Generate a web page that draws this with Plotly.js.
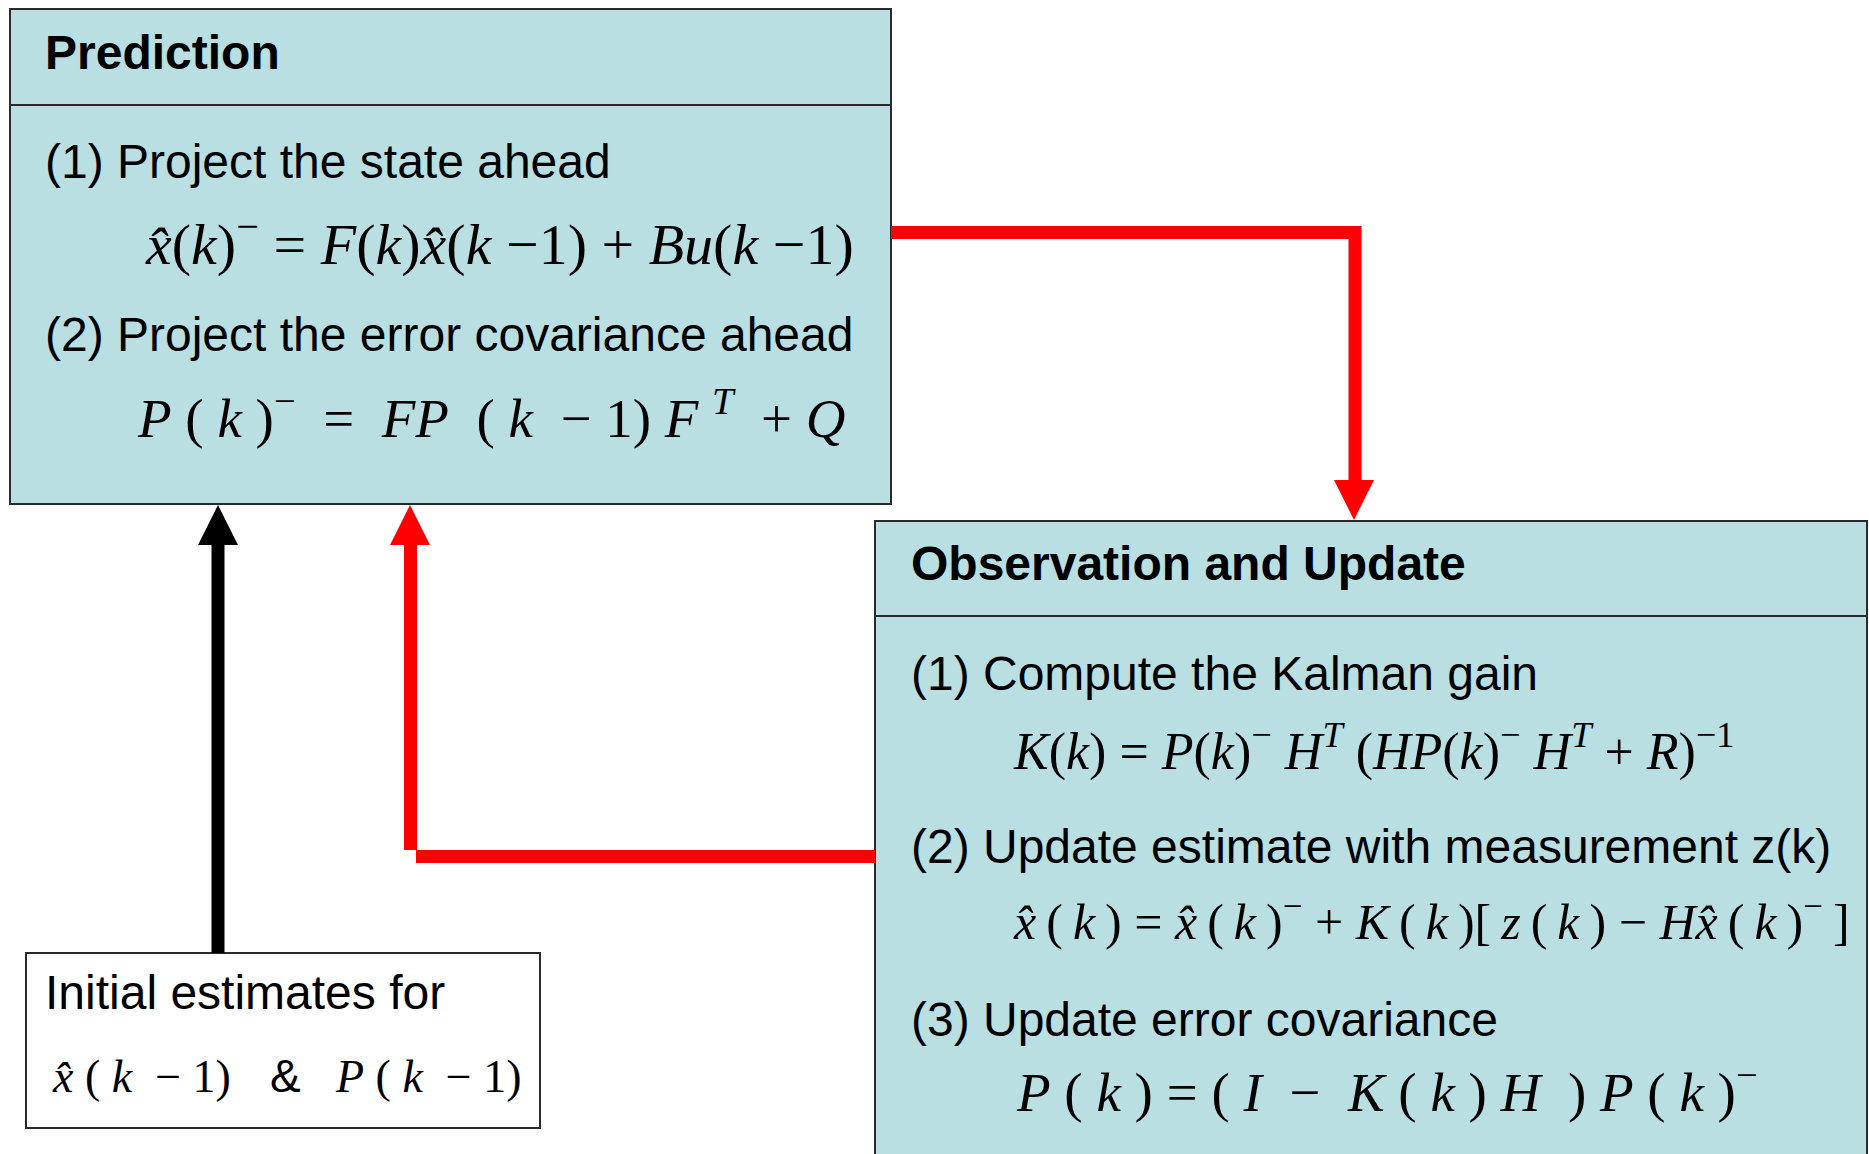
<!DOCTYPE html>
<html>
<head>
<meta charset="utf-8">
<script src="https://cdn.plot.ly/plotly-3.0.1.min.js"></script>
<style>html,body{margin:0;padding:0;background:#fff;}#chart{width:1869px;height:1154px;}</style>
</head>
<body>
<div id="chart"></div>
<script>
// ---- diagram content ----
const boxTitles = ['Prediction', 'Observation and Update'];
const predSteps = ['(1) Project the state ahead', '(2) Project the error covariance ahead'];
const predEquations = [
  '<i>x\u0302</i>(<i>k</i>)<sup>\u2212</sup> = <i>F</i>(<i>k</i>)<i>x\u0302</i>(<i>k</i> \u22121) + <i>Bu</i>(<i>k</i> \u22121)',
  '<i>P</i>\u00a0(\u00a0<i>k</i>\u00a0)<sup>\u2212</sup>\u00a0\u00a0=\u00a0\u00a0<i>FP</i>\u00a0\u00a0(\u00a0<i>k</i>\u00a0\u00a0\u2212\u00a01)\u00a0<i>F</i>\u00a0<sup><i>T</i></sup>\u00a0\u00a0+\u00a0<i>Q</i>'
];
const updSteps = ['(1) Compute the Kalman gain', '(2) Update estimate with measurement z(k)', '(3) Update error covariance'];
const updEquations = [
  '<i>K</i>(<i>k</i>) = <i>P</i>(<i>k</i>)<sup>\u2212</sup> <i>H</i><sup><i>T</i></sup> (<i>HP</i>(<i>k</i>)<sup>\u2212</sup> <i>H</i><sup><i>T</i></sup> + <i>R</i>)<sup>\u22121</sup>',
  '<i>x\u0302</i>\u2009(\u2009<i>k</i>\u2009) = <i>x\u0302</i>\u2009(\u2009<i>k</i>\u2009)<sup>\u2212</sup> + <i>K</i>\u2009(\u2009<i>k</i>\u2009)[\u2009<i>z</i>\u2009(\u2009<i>k</i>\u2009) \u2212 <i>Hx\u0302</i>\u2009(\u2009<i>k</i>\u2009)<sup>\u2212</sup>\u2009]',
  '<i>P</i>\u00a0(\u00a0<i>k</i>\u00a0)\u00a0=\u00a0(\u00a0<i>I</i>\u00a0\u00a0\u2212\u00a0\u00a0<i>K</i>\u00a0(\u00a0<i>k</i>\u00a0)\u00a0<i>H</i>\u00a0\u00a0)\u00a0<i>P</i>\u00a0(\u00a0<i>k</i>\u00a0)<sup>\u2212</sup>'
];
const initLabel = 'Initial estimates for';
const initTerms = ['<i>x\u0302</i>\u00a0(\u00a0<i>k</i>\u00a0\u00a0\u2212\u00a01)', '&amp;', '<i>P</i>\u00a0(\u00a0<i>k</i>\u00a0\u00a0\u2212\u00a01)'];

// ---- styling / geometry ----
const W = 1869, H = 1154;
const FILL = '#BADFE3';
const EDGE = '#2a2a2a';
const RED = '#FF0000';
const SANS = 'Liberation Sans, Arial, sans-serif';
const SERIF = 'Liberation Serif, Times New Roman, serif';

const pred = {x0: 10, x1: 891, y0: 9, y1: 504, div: 105};
const obs = {x0: 875, x1: 1867, y0: 521, y1: 1175, div: 616};
const init = {x0: 26, x1: 540, y0: 953, y1: 1128};

const shapes = [];
function rect(b, fill) {
  shapes.push({type: 'rect', xref: 'x', yref: 'y', x0: b.x0, x1: b.x1, y0: b.y0, y1: b.y1,
    fillcolor: fill, line: {color: EDGE, width: 2}, layer: 'below'});
}
function hline(x0, x1, y, color, w) {
  shapes.push({type: 'line', xref: 'x', yref: 'y', x0: x0, x1: x1, y0: y, y1: y, line: {color: color, width: w}});
}
function vline(x, y0, y1, color, w) {
  shapes.push({type: 'line', xref: 'x', yref: 'y', x0: x, x1: x, y0: y0, y1: y1, line: {color: color, width: w}});
}
function head(xTip, yTip, dir, color) {
  // dir = -1 arrow points up, +1 arrow points down
  const hw = 20, hl = 40;
  const yb = yTip - dir * hl;
  shapes.push({type: 'path', xref: 'x', yref: 'y',
    path: 'M ' + xTip + ' ' + yTip + ' L ' + (xTip - hw) + ' ' + yb + ' L ' + (xTip + hw) + ' ' + yb + ' Z',
    fillcolor: color, line: {color: color, width: 0}});
}

rect(pred, FILL);
rect(obs, FILL);
rect(init, '#FFFFFF');
hline(pred.x0, pred.x1, pred.div, EDGE, 2);
hline(obs.x0, obs.x1, obs.div, EDGE, 2);

// black arrow: initial estimates -> prediction
vline(218, init.y0, 540, '#000000', 13);
head(218, pred.y1 + 1, -1, '#000000');
// red arrow: prediction -> observation
hline(pred.x1, 1361, 232.5, RED, 13);
vline(1355, 226, 485, RED, 13);
head(1354, obs.y0 - 1, 1, RED);
// red arrow: observation -> prediction
hline(416, obs.x0, 856.5, RED, 13);
vline(410.5, 850, 540, RED, 13);
head(410, pred.y1 + 1, -1, RED);

const ann = [];
function txt(x, y, text, size, family, anchor) {
  ann.push({xref: 'x', yref: 'y', x: x, y: y, text: text, showarrow: false,
    xanchor: anchor || 'left', yanchor: 'middle',
    font: {family: family, size: size, color: '#000'}});
}
txt(43, 52, '<b>' + boxTitles[0] + '</b>', 48, SANS);
txt(909, 563, '<b>' + boxTitles[1] + '</b>', 48, SANS);

txt(43, 161, predSteps[0], 48, SANS);
txt(43, 334, predSteps[1], 48, SANS);
txt(143, 240, predEquations[0], 58, SERIF);
txt(135, 414, predEquations[1], 55, SERIF);

txt(909, 673, updSteps[0], 48, SANS);
txt(909, 846, updSteps[1], 48, SANS);
txt(909, 1019, updSteps[2], 48, SANS);
txt(1011, 748, updEquations[0], 52, SERIF);
txt(1011, 918, updEquations[1], 50, SERIF);
txt(1014, 1088, updEquations[2], 55, SERIF);

txt(43, 992, initLabel, 48, SANS);
txt(50, 1076, initTerms[0], 46, SERIF);
txt(268, 1076, initTerms[1], 46, SANS);
txt(333, 1076, initTerms[2], 46, SERIF);

const layout = {
  width: W, height: H,
  margin: {l: 0, r: 0, t: 0, b: 0},
  paper_bgcolor: '#FFFFFF', plot_bgcolor: '#FFFFFF',
  xaxis: {range: [0, W], visible: false, fixedrange: true},
  yaxis: {range: [H, 0], visible: false, fixedrange: true},
  showlegend: false,
  shapes: shapes,
  annotations: ann
};
Plotly.newPlot('chart', [], layout, {displayModeBar: false, staticPlot: true});
</script>
</body>
</html>
